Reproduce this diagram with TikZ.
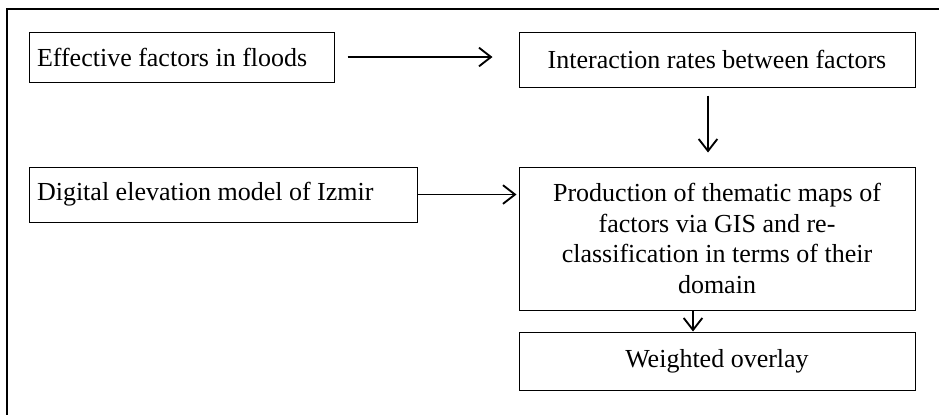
\documentclass[tikz,border=0pt]{standalone}
\usepackage{fontspec}
\setmainfont{Liberation Serif}
\usetikzlibrary{arrows.meta,positioning}

\tikzset{
  flowbox/.style={draw, line width=0.75pt, inner ysep=0pt, inner xsep=6pt, font=\fontsize{19.5}{23}\selectfont},
  flowarrow/.style={line width=1.4pt, -{Straight Barb[length=9pt,width=14pt,line width=1.4pt]}},
}

\begin{document}
\begin{tikzpicture}[x=0.75pt,y=0.75pt,yscale=-1,xscale=1]
\useasboundingbox (0,0) rectangle (939,415);

%Outer frame
\draw [line width=1.5pt] (939,9) -- (7,9) -- (7,415) ;

% Text Node
\node [flowbox, minimum height=37.5pt] (factors) at (181.5,57) {\makebox[216.75pt][l]{Effective factors in floods}};
% Text Node
\node [flowbox, minimum width=297pt, minimum height=41.25pt] (rates) at (717,59.5) {Interaction rates between factors};
% Text Node
\node [flowbox, minimum height=41.25pt] (dem) at (223,194.5) {\makebox[279pt][l]{Digital elevation model of Izmir}};
% Text Node
\node [flowbox, align=center, minimum width=297pt, minimum height=107.25pt] (maps) at (717,238.5) {Production of thematic maps of\\factors via GIS and re-\\classification in terms of their\\domain};
% Text Node
\node [flowbox, minimum width=297pt, minimum height=43.5pt] (overlay) at (717,361) {Weighted overlay};

%Straight Lines
\draw [flowarrow, shorten <=9.75pt, shorten >=19.5pt] (factors.east) -- (factors.east -| rates.west) ;
%Straight Lines
\draw [flowarrow, shorten <=6pt, shorten >=10.5pt] ([xshift=-6.75pt]rates.south) -- ([xshift=-6.75pt]rates.south |- maps.north) ;
%Straight Lines
\draw [flowarrow, shorten >=1.5pt] (dem.east) -- (dem.east -| maps.west) ;
%Straight Lines
\draw [flowarrow] ([xshift=-18pt]maps.south) -- ([xshift=-18pt]maps.south |- overlay.north) ;

\end{tikzpicture}
\end{document}
